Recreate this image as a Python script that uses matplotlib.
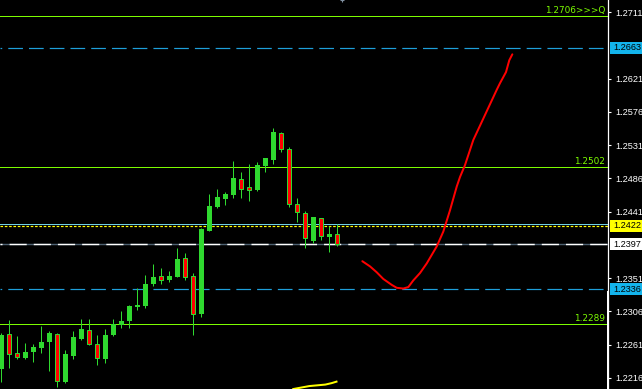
import matplotlib
matplotlib.use("Agg")
import matplotlib.pyplot as plt
from matplotlib.patches import Rectangle
import numpy as np

# ---------------- data ----------------
opens = [1.2228, 1.2275, 1.2250, 1.2243, 1.2251, 1.2256, 1.2265, 1.2276, 1.2211, 1.2246,
         1.2269, 1.2281, 1.2262, 1.2242, 1.2274, 1.2288, 1.2293, 1.2312, 1.2313, 1.2343,
         1.2354, 1.2349, 1.2353, 1.2378, 1.2354, 1.2303, 1.2415, 1.2448, 1.2458, 1.2464,
         1.2485, 1.2475, 1.2470, 1.2503, 1.2511, 1.2548, 1.2526, 1.2451, 1.2439, 1.2402,
         1.2433, 1.2407, 1.2411]
highs = [1.2277, 1.2294, 1.2273, 1.2263, 1.2262, 1.2286, 1.2280, 1.2277, 1.2254, 1.2280,
         1.2296, 1.2296, 1.2274, 1.2282, 1.2296, 1.2307, 1.2315, 1.2338, 1.2355, 1.2370,
         1.2365, 1.2361, 1.2392, 1.2385, 1.2358, 1.2419, 1.2465, 1.2472, 1.2468, 1.2510,
         1.2495, 1.2506, 1.2508, 1.2514, 1.2554, 1.2549, 1.2529, 1.2460, 1.2442, 1.2434,
         1.2433, 1.2421, 1.2425]
lows = [1.2211, 1.2230, 1.2241, 1.2242, 1.2238, 1.2250, 1.2226, 1.2204, 1.2209, 1.2241,
        1.2268, 1.2260, 1.2234, 1.2236, 1.2273, 1.2284, 1.2284, 1.2308, 1.2311, 1.2340,
        1.2343, 1.2346, 1.2352, 1.2349, 1.2274, 1.2299, 1.2415, 1.2446, 1.2450, 1.2460,
        1.2460, 1.2455, 1.2469, 1.2495, 1.2506, 1.2522, 1.2448, 1.2427, 1.2392, 1.2399,
        1.2403, 1.2387, 1.2395]
closes = [1.2274, 1.2249, 1.2245, 1.2251, 1.2258, 1.2265, 1.2277, 1.2212, 1.2248, 1.2271,
          1.2282, 1.2262, 1.2243, 1.2274, 1.2289, 1.2293, 1.2313, 1.2315, 1.2343, 1.2353,
          1.2349, 1.2354, 1.2377, 1.2352, 1.2303, 1.2418, 1.2449, 1.2461, 1.2465, 1.2487,
          1.2472, 1.2471, 1.2504, 1.2514, 1.2549, 1.2526, 1.2452, 1.2440, 1.2405, 1.2434,
          1.2408, 1.2411, 1.2397]

# hand-drawn red projection curve (bar index, price)
curve_x = [45.13, 46.09, 46.93, 47.75, 48.8, 49.43, 50.25, 50.88, 51.5, 52.34, 53.18,
           54.43, 55.25, 56.09, 56.93, 57.34, 57.96, 59.0, 60.25, 61.93, 62.34, 63.09,
           63.5, 63.88]
curve_y = [1.2374, 1.2367, 1.2359, 1.2350, 1.2342, 1.2338, 1.2337, 1.2339, 1.2348, 1.2358,
           1.2371, 1.2394, 1.2414, 1.2443, 1.2475, 1.2488, 1.2504, 1.2538, 1.2567, 1.2606,
           1.2615, 1.2630, 1.2646, 1.2654]

# yellow indicator line at bottom
ma_x = [36.5, 37.5, 38.5, 39.5, 40.5, 41.3, 41.9]
ma_y = [1.2201, 1.2203, 1.2205, 1.2206, 1.2207, 1.2209, 1.2211]

# price levels
green_levels = [1.2706, 1.2502, 1.2289]
green_texts = ["1.2706>>>Q", "1.2502", "1.2289"]
cyan_dash_levels = [1.2663, 1.2336]
cyan_thin_level = 1.2425
yellow_level = 1.2422
white_level = 1.2397

tick_values = [1.2711, 1.2621, 1.2576, 1.2531, 1.2486, 1.2441, 1.2351, 1.2306, 1.2261, 1.2216]
box_levels = [1.2663, 1.2422, 1.2397, 1.2336]
box_colors = ["#13b4ec", "#ffff00", "#ffffff", "#13b4ec"]

# ---------------- figure ----------------
W, H = 642, 389
fig = plt.figure(figsize=(W / 100, H / 100), dpi=100, facecolor="black")
AX_W = 608
ax = fig.add_axes([0, 0, AX_W / W, 1])
ax.set_facecolor("black")
ax.set_xlim(-0.1625, 75.84)
ax.set_ylim(1.220103, 1.272756)

LABEL_FONT = dict(family=["Liberation Sans", "DejaVu Sans"], size=6.6)

for s in ["top", "left", "bottom"]:
    ax.spines[s].set_visible(False)
ax.spines["right"].set_color("white")
ax.spines["right"].set_linewidth(0.9)
ax.set_xticks([])
ax.yaxis.tick_right()
ax.set_yticks(tick_values)
ax.set_yticklabels([f"{v:.4f}" for v in tick_values], fontdict=LABEL_FONT)
ax.tick_params(axis="y", colors="white", length=2.5, width=0.8, pad=2.5)

GREEN_LINE = "#7cfc00"
CANDLE_GREEN = "#2fd92f"
px = 72 / 100  # points per pixel

# horizontal lines
for lv, txt in zip(green_levels, green_texts):
    ax.axhline(lv, color=GREEN_LINE, lw=1 * px, zorder=2)
    ax.text(605 / AX_W, lv + 0.00012, txt, transform=ax.get_yaxis_transform(),
            ha="right", va="bottom", color=GREEN_LINE, fontsize=6.4)

dash_pat = (15 * px, (17 * px, 7 * px))
for lv in cyan_dash_levels:
    ax.axhline(lv, color="#1e9fda", lw=1.2 * px, linestyle=dash_pat, zorder=2)

ax.axhline(cyan_thin_level, color="#6fd0e6", lw=1 * px, zorder=2)
ax.axhline(yellow_level, color="#ffff00", lw=1.2 * px, linestyle=(0, (3 * px, 2 * px)), zorder=2)
ax.axhline(white_level, color="#4d6070", lw=1.4 * px, zorder=2)
ax.axhline(white_level, color="white", lw=1.4 * px, linestyle=dash_pat, zorder=2)

# candles
x = np.arange(len(opens))
o = np.array(opens); c = np.array(closes); h = np.array(highs); l = np.array(lows)
up = c >= o
ax.vlines(x, l, h, color=CANDLE_GREEN, lw=1 * px, zorder=3)
ax.bar(x[up], (c - o)[up], bottom=o[up], width=0.62, color=CANDLE_GREEN, lw=0, zorder=4)
ax.bar(x[~up], (o - c)[~up], bottom=c[~up], width=0.52, color="#ff0000",
       edgecolor=CANDLE_GREEN, lw=1 * px, zorder=4)

# projection curve and indicator
ax.plot(curve_x, curve_y, color="#ff0000", lw=2 * px, zorder=5, solid_capstyle="round")
ax.plot(ma_x, ma_y, color="#ffff00", lw=2 * px, zorder=5)

# small marker at the top
ax.plot([42.6], [ax.get_ylim()[1]], marker="+", color="#8090a0", ms=3, mew=0.8,
        clip_on=False, zorder=6)

# thicker part of scale line at the bottom
trans = ax.get_yaxis_transform()
ax.plot([1.0, 1.0], [1.220103, 1.2332], transform=trans, color="white", lw=2 * px,
        clip_on=False, zorder=6)

# price label boxes
box_h = 0.00160
for lv, col in zip(box_levels, box_colors):
    r = Rectangle((610 / AX_W, lv - box_h / 2), (W - 610) / AX_W, box_h, transform=trans,
                  facecolor=col, edgecolor="none", clip_on=False, zorder=7)
    ax.add_patch(r)
    ax.text(613 / AX_W, lv, f"{lv:.4f}", transform=trans, ha="left", va="center",
            color="black", clip_on=False, zorder=8, fontdict=LABEL_FONT)

fig.savefig("out.png", dpi=100, facecolor="black")
